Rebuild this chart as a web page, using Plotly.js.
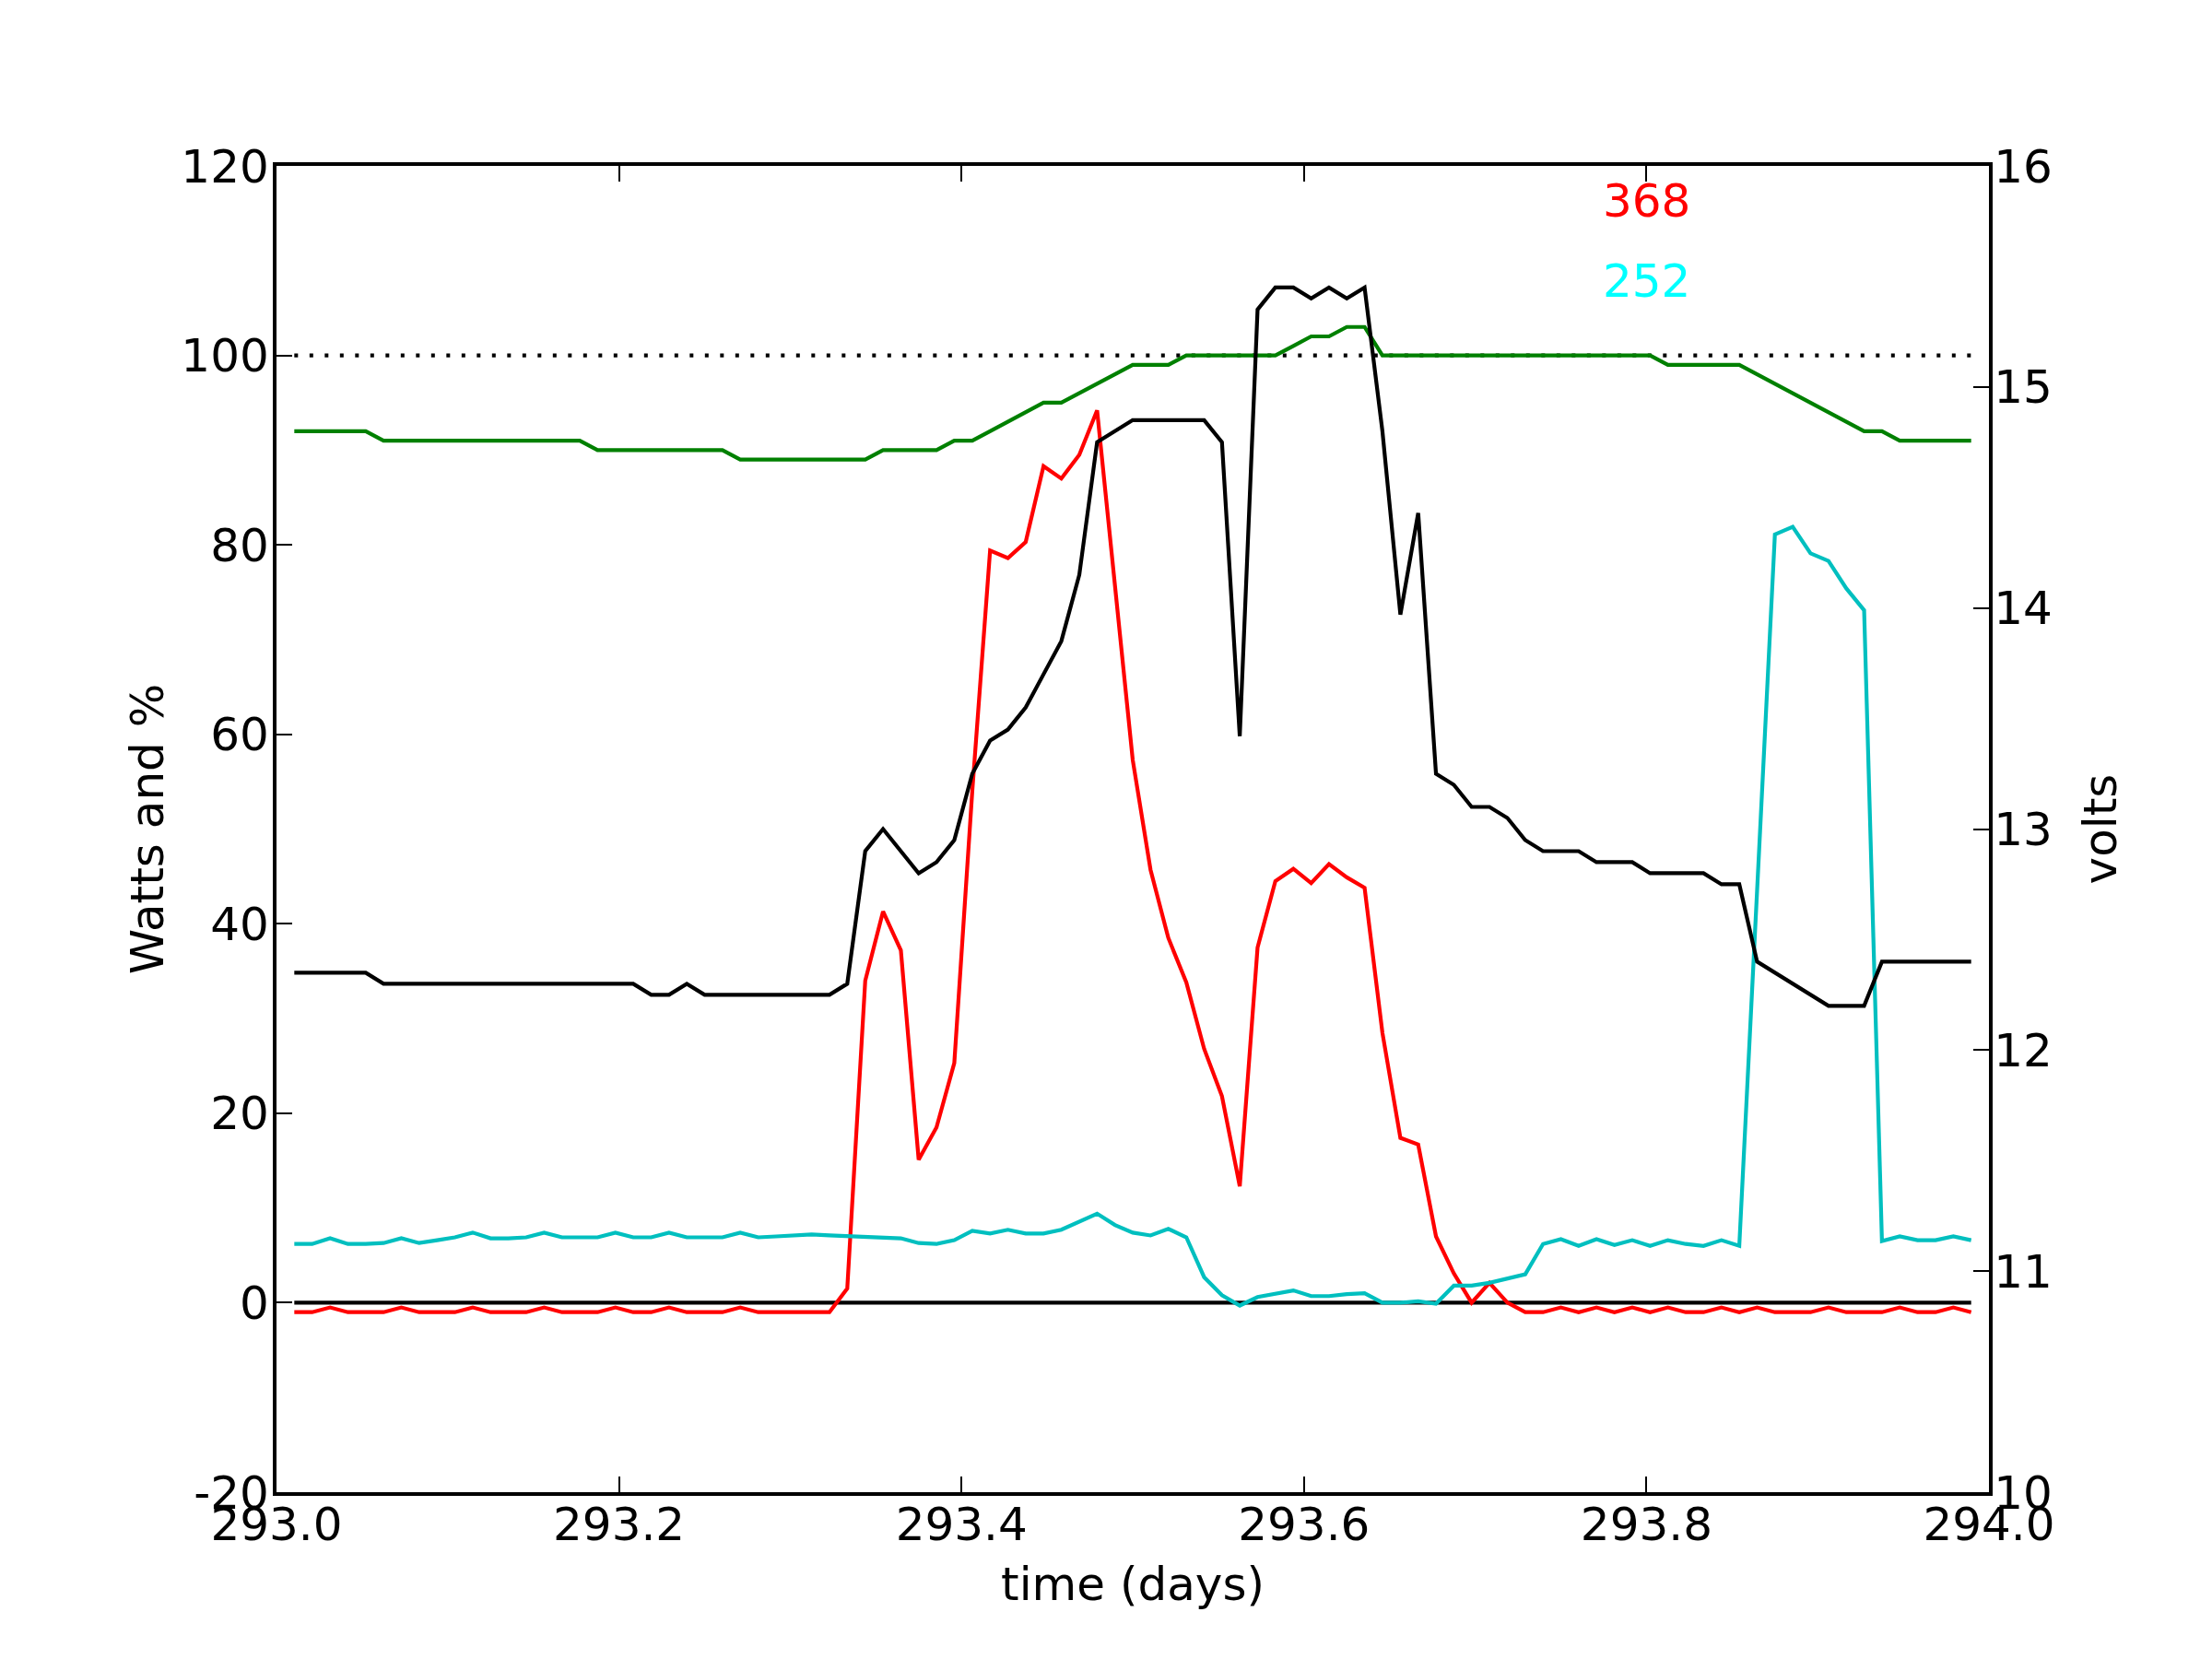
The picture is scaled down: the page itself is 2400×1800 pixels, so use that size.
<!DOCTYPE html>
<html>
<head>
<meta charset="utf-8">
<script src="https://cdn.plot.ly/plotly-3.0.1.min.js"></script>
<style>
  html, body { margin: 0; padding: 0; background: #ffffff; }
  #chart { width: 2400px; height: 1800px; }
</style>
</head>
<body>
<div id="chart"></div>
<script>
// sample times (days), 15-minute readings
const times = [
  293.0104, 293.0208, 293.0313, 293.0417, 293.0521, 293.0625, 293.0729, 293.0833, 293.0938, 293.1042,
  293.1146, 293.1250, 293.1354, 293.1458, 293.1563, 293.1667, 293.1771, 293.1875, 293.1979, 293.2083,
  293.2188, 293.2292, 293.2396, 293.2500, 293.2604, 293.2708, 293.2813, 293.2917, 293.3021, 293.3125,
  293.3229, 293.3333, 293.3438, 293.3542, 293.3646, 293.3750, 293.3854, 293.3958, 293.4063, 293.4167,
  293.4271, 293.4375, 293.4479, 293.4583, 293.4688, 293.4792, 293.4896, 293.5000, 293.5104, 293.5208,
  293.5313, 293.5417, 293.5521, 293.5625, 293.5729, 293.5833, 293.5938, 293.6042, 293.6146, 293.6250,
  293.6354, 293.6458, 293.6563, 293.6667, 293.6771, 293.6875, 293.6979, 293.7083, 293.7188, 293.7292,
  293.7396, 293.7500, 293.7604, 293.7708, 293.7813, 293.7917, 293.8021, 293.8125, 293.8229, 293.8333,
  293.8438, 293.8542, 293.8646, 293.8750, 293.8854, 293.8958, 293.9063, 293.9167, 293.9271, 293.9375,
  293.9479, 293.9583, 293.9688, 293.9792, 293.9896
];

// solar charge power (W) - red
const wattsIn = [
  -1, -1, -0.5, -1, -1, -1, -0.5, -1, -1, -1,
  -0.5, -1, -1, -1, -0.5, -1, -1, -1, -0.5, -1,
  -1, -0.5, -1, -1, -1, -0.5, -1, -1, -1, -1,
  -1, 1.5, 34.0, 41.3, 37.2, 15.1, 18.5, 25.3, 54.0, 79.4,
  78.6, 80.3, 88.3, 87.0, 89.5, 94.2, 75.7, 57.3, 45.7, 38.5,
  33.8, 26.8, 21.8, 12.3, 37.5, 44.5, 45.8, 44.3, 46.3, 44.9,
  43.8, 28.5, 17.4, 16.7, 7.0, 3.1, 0.0, 2.1, 0.0, -1,
  -1, -0.5, -1, -0.5, -1, -0.5, -1, -0.5, -1, -1,
  -0.5, -1, -0.5, -1, -1, -1, -0.5, -1, -1, -1,
  -0.5, -1, -1, -0.5, -1
];

// load power (W) - cyan
const wattsOut = [
  6.2, 6.2, 6.8, 6.2, 6.2, 6.3, 6.8, 6.3, 6.6, 6.9,
  7.4, 6.8, 6.8, 6.9, 7.4, 6.9, 6.9, 6.9, 7.4, 6.9,
  6.9, 7.4, 6.9, 6.9, 6.9, 7.4, 6.9, 7.0, 7.1, 7.2,
  7.1, 7.0, 6.9, 6.8, 6.8, 6.3, 6.2, 6.6, 7.6, 7.3,
  7.7, 7.3, 7.3, 7.7, 8.6, 9.4, 8.2, 7.4, 7.1, 7.8,
  6.9, 2.7, 0.8, -0.3, 0.6, 0.9, 1.3, 0.7, 0.7, 0.9,
  1.0, 0.0, 0.0, 0.15, -0.1, 1.8, 1.8, 2.1, 2.5, 3.0,
  6.2, 6.7, 6.0, 6.7, 6.1, 6.6, 6.0, 6.6, 6.2, 6.0,
  6.6, 6.0, 43.5, 81.1, 81.9, 79.1, 78.3, 75.4, 73.1, 6.5,
  7.0, 6.6, 6.6, 7.0, 6.6
];

// state of charge (%) - green
const soc = [
  92, 92, 92, 92, 92, 91, 91, 91, 91, 91,
  91, 91, 91, 91, 91, 91, 91, 90, 90, 90,
  90, 90, 90, 90, 90, 89, 89, 89, 89, 89,
  89, 89, 89, 90, 90, 90, 90, 91, 91, 92,
  93, 94, 95, 95, 96, 97, 98, 99, 99, 99,
  100, 100, 100, 100, 100, 100, 101, 102, 102, 103,
  103, 100, 100, 100, 100, 100, 100, 100, 100, 100,
  100, 100, 100, 100, 100, 100, 100, 99, 99, 99,
  99, 99, 98, 97, 96, 95, 94, 93, 92, 92,
  91, 91, 91, 91, 91
];

// battery voltage (V) - black, right axis
const volts = [
  12.35, 12.35, 12.35, 12.35, 12.35, 12.30, 12.30, 12.30, 12.30, 12.30,
  12.30, 12.30, 12.30, 12.30, 12.30, 12.30, 12.30, 12.30, 12.30, 12.30,
  12.25, 12.25, 12.30, 12.25, 12.25, 12.25, 12.25, 12.25, 12.25, 12.25,
  12.25, 12.30, 12.90, 13.00, 12.90, 12.80, 12.85, 12.95, 13.25, 13.40,
  13.45, 13.55, 13.70, 13.85, 14.15, 14.75, 14.80, 14.85, 14.85, 14.85,
  14.85, 14.85, 14.75, 13.42, 15.35, 15.45, 15.45, 15.40, 15.45, 15.40,
  15.45, 14.80, 13.97, 14.43, 13.25, 13.20, 13.10, 13.10, 13.05, 12.95,
  12.90, 12.90, 12.90, 12.85, 12.85, 12.85, 12.80, 12.80, 12.80, 12.80,
  12.75, 12.75, 12.40, 12.35, 12.30, 12.25, 12.20, 12.20, 12.20, 12.40,
  12.40, 12.40, 12.40, 12.40, 12.40
];

// reference levels (left axis)
const zeroLevel = [0, 0];
const fullLevel = [100, 100];

// daily totals shown as text
const totalInLabel = "368";
const totalOutLabel = "252";
const totalInY = 116.3;
const totalOutY = 107.8;
const labelX = 293.8;

const xTickVals = [293.0, 293.2, 293.4, 293.6, 293.8, 294.0];
const xTickText = ["293.0", "293.2", "293.4", "293.6", "293.8", "294.0"];
const yTickVals = [-20, 0, 20, 40, 60, 80, 100, 120];
const yTickText = ["-20", "0", "20", "40", "60", "80", "100", "120"];
const y2TickVals = [10, 11, 12, 13, 14, 15, 16];
const y2TickText = ["10", "11", "12", "13", "14", "15", "16"];

const FONT = "DejaVu Sans, Liberation Sans, sans-serif";
const FS = 50;
const LW = 4.2;
const span = [times[0], times[times.length - 1]];

const traces = [
  { x: span, y: zeroLevel, type: "scatter", mode: "lines",
    line: { color: "#000000", width: LW }, yaxis: "y" },
  { x: span, y: fullLevel, type: "scatter", mode: "lines",
    line: { color: "#000000", width: LW, dash: "4px,12.5px" }, yaxis: "y" },
  { x: times, y: wattsIn, type: "scatter", mode: "lines",
    line: { color: "#ff0000", width: LW }, yaxis: "y" },
  { x: times, y: wattsOut, type: "scatter", mode: "lines",
    line: { color: "#00bfbf", width: LW }, yaxis: "y" },
  { x: times, y: soc, type: "scatter", mode: "lines",
    line: { color: "#008000", width: LW }, yaxis: "y" },
  { x: times, y: volts, type: "scatter", mode: "lines",
    line: { color: "#000000", width: LW }, yaxis: "y2" }
];

const axisCommon = {
  showgrid: false, zeroline: false, showline: true,
  linecolor: "#000000", linewidth: 4.2,
  ticks: "inside", ticklen: 17, tickwidth: 2, tickcolor: "#000000",
  tickfont: { family: FONT, size: FS, color: "#000000" }
};

const layout = {
  width: 2400, height: 1800,
  paper_bgcolor: "#ffffff", plot_bgcolor: "#ffffff",
  showlegend: false,
  margin: { l: 300, r: 242, t: 180, b: 181, pad: 0 },
  font: { family: FONT, size: FS, color: "#000000" },
  xaxis: Object.assign({}, axisCommon, {
    range: [293, 294], mirror: "ticks",
    tickmode: "array", tickvals: xTickVals, ticktext: xTickText,
    ticklabelstandoff: -12,
    title: { text: "time (days)", font: { family: FONT, size: FS, color: "#000000" }, standoff: 20 }
  }),
  yaxis: Object.assign({}, axisCommon, {
    range: [-20, 120], mirror: false,
    tickmode: "array", tickvals: yTickVals, ticktext: yTickText,
    ticklabelstandoff: -6,
    title: { text: "Watts and %", font: { family: FONT, size: FS, color: "#000000" }, standoff: 4 }
  }),
  yaxis2: Object.assign({}, axisCommon, {
    range: [10, 16], overlaying: "y", side: "right", anchor: "x",
    tickmode: "array", tickvals: y2TickVals, ticktext: y2TickText,
    ticklabelstandoff: -9,
    title: { text: "volts", font: { family: FONT, size: FS, color: "#000000" }, standoff: 36 }
  }),
  annotations: [
    { x: labelX, y: totalInY, xref: "x", yref: "y", text: totalInLabel, showarrow: false,
      xanchor: "center", yanchor: "middle",
      font: { family: FONT, size: FS, color: "#ff0000" } },
    { x: labelX, y: totalOutY, xref: "x", yref: "y", text: totalOutLabel, showarrow: false,
      xanchor: "center", yanchor: "middle",
      font: { family: FONT, size: FS, color: "#00ffff" } }
  ]
};

Plotly.newPlot("chart", traces, layout, { displayModeBar: false, staticPlot: true });
</script>
</body>
</html>
